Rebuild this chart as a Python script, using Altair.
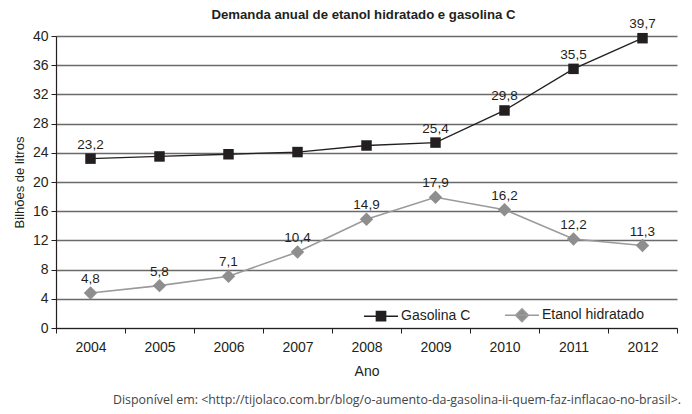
import altair as alt
import pandas as pd

years = ["2004", "2005", "2006", "2007", "2008", "2009", "2010", "2011", "2012"]
gasolina = [23.2, 23.5, 23.8, 24.1, 25.0, 25.4, 29.8, 35.5, 39.7]
gasolina_labels = ["23,2", "", "", "", "", "25,4", "29,8", "35,5", "39,7"]
etanol = [4.8, 5.8, 7.1, 10.4, 14.9, 17.9, 16.2, 12.2, 11.3]
etanol_labels = ["4,8", "5,8", "7,1", "10,4", "14,9", "17,9", "16,2", "12,2", "11,3"]
series = ["Gasolina C", "Etanol hidratado"]
y_ticks = [0, 4, 8, 12, 16, 20, 24, 28, 32, 36, 40]
title_text = "Demanda anual de etanol hidratado e gasolina C"
source_text = "Disponível em: <http://tijolaco.com.br/blog/o-aumento-da-gasolina-ii-quem-faz-inflacao-no-brasil>."

DARK = "#231f20"
GRAY = "#9a9a9a"
FONT = "Liberation Sans"

rows = []
for i, yr in enumerate(years):
    rows.append({"ano": yr, "serie": series[0], "valor": gasolina[i], "rotulo": gasolina_labels[i]})
    rows.append({"ano": yr, "serie": series[1], "valor": etanol[i], "rotulo": etanol_labels[i]})
df = pd.DataFrame(rows)

x_enc = alt.X(
    "ano:O",
    scale=alt.Scale(type="band", paddingInner=0, paddingOuter=0),
    axis=alt.Axis(
        title="Ano", labelAngle=0, tickBand="extent", grid=False,
        labelFontSize=14, labelFont=FONT, labelColor=DARK, labelPadding=7,
        tickSize=5, tickColor=DARK, domainColor=DARK, domainWidth=1.2,
        titleFont=FONT, titleFontSize=14, titleFontWeight="normal", titleColor=DARK, titlePadding=10,
    ),
)
y_enc = alt.Y(
    "valor:Q",
    scale=alt.Scale(domain=[0, 40], nice=False),
    axis=alt.Axis(
        title="Bilhões de litros", values=y_ticks, grid=True, gridColor="#6a6a6a", gridWidth=1.3,
        labelFontSize=14, labelFont=FONT, labelColor=DARK, labelPadding=3,
        tickSize=5, tickColor=DARK, domainColor=DARK, domainWidth=1.2,
        titleFont=FONT, titleFontSize=13, titleFontWeight="normal", titleColor=DARK, titlePadding=6,
    ),
)

base = alt.Chart(df)
gas = base.transform_filter(alt.datum.serie == series[0])
eth = base.transform_filter(alt.datum.serie == series[1])

gas_line = gas.mark_line(color=DARK, strokeWidth=1.3).encode(x=x_enc, y=y_enc)
eth_line = eth.mark_line(color=GRAY, strokeWidth=1.6).encode(x=x_enc, y=y_enc)
gas_pts = gas.mark_point(shape="square", filled=True, size=110, color=DARK, opacity=1).encode(x=x_enc, y=y_enc)
eth_pts = eth.mark_point(shape="diamond", filled=True, size=180, color="#8e8e8e", opacity=1).encode(x=x_enc, y=y_enc)
labels = base.mark_text(dy=-14, fontSize=13.5, font=FONT, color=DARK).encode(x=x_enc, y=y_enc, text="rotulo:N")

path_sq = "M-1,0L1,0M-0.27,-0.27L0.27,-0.27L0.27,0.27L-0.27,0.27Z"
path_dm = "M-1,0L1,0M-0.38,0L0,-0.38L0.38,0L0,0.38Z"
legend_layer = base.transform_filter("false").mark_point(filled=True, opacity=1, strokeWidth=1.5).encode(
    fill=alt.Fill("serie:N", scale=alt.Scale(domain=series, range=[DARK, "#8e8e8e"]), legend=alt.Legend(title=None)),
    stroke=alt.Stroke("serie:N", scale=alt.Scale(domain=series, range=[DARK, GRAY]), legend=alt.Legend(title=None)),
    shape=alt.Shape("serie:N", scale=alt.Scale(domain=series, range=[path_sq, path_dm]), legend=alt.Legend(title=None)),
)

title_mark = alt.Chart(pd.DataFrame({"t": [title_text]})).mark_text(
    align="center", baseline="middle", font=FONT, fontSize=13.2, fontWeight="bold", color=DARK
).encode(x=alt.value(307.5), y=alt.value(-21), text="t:N")

source = alt.Chart(pd.DataFrame({"t": [source_text]})).mark_text(
    align="right", baseline="middle", font="Open Sans", fontSize=12.4, color="#444444"
).encode(x=alt.value(625), y=alt.value(364), text="t:N")

chart = alt.layer(gas_line, eth_line, gas_pts, eth_pts, labels, legend_layer, title_mark, source).properties(
    width=621, height=292,
    autosize=alt.AutoSizeParams(type="none"),
    padding={"left": 48, "top": 28, "right": 7, "bottom": 84},
).configure_view(stroke=None).configure_legend(
    orient="none", legendX=307, legendY=261, direction="horizontal",
    symbolSize=1156, symbolStrokeWidth=1.5, labelFont=FONT, labelFontSize=14, labelColor=DARK,
    labelOffset=2, columnPadding=31,
)

chart.save("out.html", embed_options={"renderer": "svg", "actions": False})
